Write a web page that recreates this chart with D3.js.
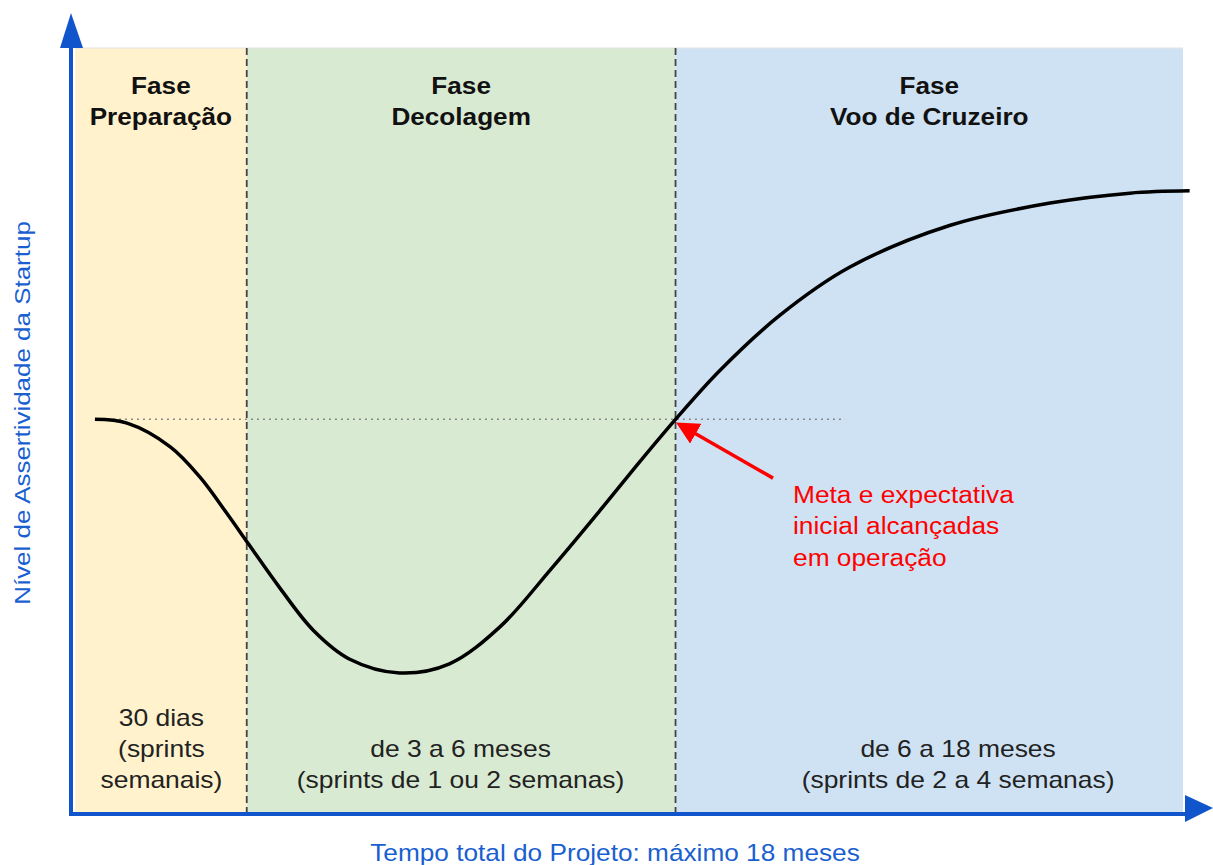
<!DOCTYPE html>
<html>
<head>
<meta charset="utf-8">
<script src="https://cdn.jsdelivr.net/npm/d3@7"></script>
<style>
  body { margin: 0; background: #fff; }
  svg { font-family: "Liberation Sans", Arial, sans-serif; }
</style>
</head>
<body>
<div id="chart"></div>
<script>
// phases (x in abstract time units, 0..100 across the panel)
var phaseNames = ["Preparação", "Decolagem", "Voo de Cruzeiro"];
var phaseStart = [0, 15.5, 54.2];
var phaseEnd = [15.5, 54.2, 100];
var phaseColors = ["#fff2cc", "#d9ead3", "#cfe2f3"];
var phaseNotes = [
  ["30 dias", "(sprints", "semanais)"],
  ["de 3 a 6 meses", "(sprints de 1 ou 2 semanas)"],
  ["de 6 a 18 meses", "(sprints de 2 a 4 semanas)"]
];
var noteCenters = [7.8, 34.8, 79.7];

// assertiveness curve
var curveX = [1.8, 4.7, 8.6, 11.3, 13.7, 15.6, 18.5, 21.5, 24.8, 29.3, 33.8, 38.4, 42.9, 47.4, 51.0, 54.2, 58.2, 63.6, 69.9, 79.0, 88.0, 95.2, 100.6];
var curveY = [51.4, 50.9, 47.8, 43.8, 39.1, 35.2, 29.3, 23.8, 20.0, 18.2, 19.4, 24.3, 31.7, 39.5, 45.9, 51.4, 57.8, 65.0, 71.3, 76.8, 79.7, 81.0, 81.3];

// target level (dotted line) and annotation
var targetLevel = 51.4;
var targetEnd = 69.5;
var noteLines = ["Meta e expectativa", "inicial alcançadas", "em operação"];

var width = 1213, height = 865;
var svg = d3.select("#chart").append("svg")
  .attr("width", width)
  .attr("height", height);

var x = d3.scaleLinear().domain([0, 100]).range([75, 1183]);
var y = d3.scaleLinear().domain([0, 100]).range([812, 48]);

// the source drawing's text is a little stretched horizontally
var stretch = 1.15;

var defs = svg.append("defs");
defs.append("marker")
  .attr("id", "redHead")
  .attr("viewBox", "0 0 10 10")
  .attr("refX", 8).attr("refY", 5)
  .attr("markerWidth", 6.5).attr("markerHeight", 6.5)
  .attr("markerUnits", "strokeWidth")
  .attr("orient", "auto")
  .append("path").attr("d", "M0,0L10,5L0,10Z").attr("fill", "#ff0000");

// phase bands
svg.selectAll("rect.band")
  .data(phaseNames)
  .enter()
  .append("rect")
  .attr("class", "band")
  .attr("x", (d, i) => x(phaseStart[i]))
  .attr("width", (d, i) => x(phaseEnd[i]) - x(phaseStart[i]))
  .attr("y", y(100))
  .attr("height", y(0) - y(100))
  .attr("fill", (d, i) => phaseColors[i]);

svg.append("line")
  .attr("x1", x(0)).attr("x2", x(100))
  .attr("y1", y(100)).attr("y2", y(100))
  .attr("stroke", "#e3e3e3").attr("stroke-width", 1);

// dashed separators
svg.selectAll("line.sep")
  .data(phaseStart.slice(1))
  .enter()
  .append("line")
  .attr("class", "sep")
  .attr("x1", d => x(d)).attr("x2", d => x(d))
  .attr("y1", y(100)).attr("y2", y(0))
  .attr("stroke", "#444")
  .attr("stroke-width", 1.8)
  .attr("stroke-dasharray", "7,4");

// phase titles
phaseNames.forEach(function (name, i) {
  var cx = (x(phaseStart[i]) + x(phaseEnd[i])) / 2;
  var t = svg.append("text")
    .attr("transform", "translate(" + cx + ",0) scale(1.09,1)")
    .attr("text-anchor", "middle")
    .attr("font-weight", "bold")
    .attr("font-size", 24)
    .attr("fill", "#111");
  t.append("tspan").attr("x", 0).attr("y", 94).text("Fase");
  t.append("tspan").attr("x", 0).attr("y", 125).text(name);
});

// phase notes
phaseNotes.forEach(function (lines, i) {
  var startY = lines.length == 3 ? 726 : 757;
  var t = svg.append("text")
    .attr("transform", "translate(" + x(noteCenters[i]) + ",0) scale(" + stretch + ",1)")
    .attr("text-anchor", "middle")
    .attr("font-size", 23)
    .attr("fill", "#222");
  lines.forEach(function (l, j) {
    t.append("tspan")
      .attr("x", 0)
      .attr("y", startY + j * 31)
      .text(l);
  });
});

// target dotted line
svg.append("line")
  .attr("x1", x(curveX[0])).attr("x2", x(targetEnd))
  .attr("y1", y(targetLevel)).attr("y2", y(targetLevel))
  .attr("stroke", "#888")
  .attr("stroke-width", 1.5)
  .attr("stroke-dasharray", "2,4");

// curve
var pts = curveX.map((d, i) => [d, curveY[i]]);
var line = d3.line()
  .x(d => x(d[0]))
  .y(d => y(d[1]))
  .curve(d3.curveCatmullRom.alpha(0.5));
svg.append("path")
  .attr("d", line(pts))
  .attr("fill", "none")
  .attr("stroke", "#000")
  .attr("stroke-width", 3.5);

// annotation arrow
svg.append("line")
  .attr("x1", x(63.0)).attr("y1", y(43.7))
  .attr("x2", x(54.6)).attr("y2", y(50.7))
  .attr("stroke", "#ff0000")
  .attr("stroke-width", 3.5)
  .attr("marker-end", "url(#redHead)");

var note = svg.append("text")
  .attr("transform", "translate(793,0) scale(1.12,1)")
  .attr("font-size", 23.5)
  .attr("fill", "#ff0000");
noteLines.forEach(function (l, j) {
  note.append("tspan")
    .attr("x", 0)
    .attr("y", 503 + j * 31.5)
    .text(l);
});

// axes with arrows
var blue = "#1155cc";
svg.append("line")
  .attr("x1", 71).attr("y1", 816)
  .attr("x2", 71).attr("y2", 45)
  .attr("stroke", blue).attr("stroke-width", 4);
svg.append("path")
  .attr("d", "M60,48L71,13L83,48Z")
  .attr("fill", blue);
svg.append("line")
  .attr("x1", 69).attr("y1", 814)
  .attr("x2", 1187).attr("y2", 814)
  .attr("stroke", blue).attr("stroke-width", 4);
svg.append("path")
  .attr("d", "M1185,795L1213,808L1185,822Z")
  .attr("fill", blue);

// axis titles
svg.append("text")
  .attr("transform", "translate(615,861) scale(1.14,1)")
  .attr("text-anchor", "middle")
  .attr("font-size", 23)
  .attr("fill", "#1a5fd0")
  .text("Tempo total do Projeto: máximo 18 meses");
svg.append("text")
  .attr("transform", "translate(30,413) rotate(-90) scale(1.18,1)")
  .attr("text-anchor", "middle")
  .attr("font-size", 22)
  .attr("fill", "#1a5fd0")
  .text("Nível de Assertividade da Startup");
</script>
</body>
</html>
